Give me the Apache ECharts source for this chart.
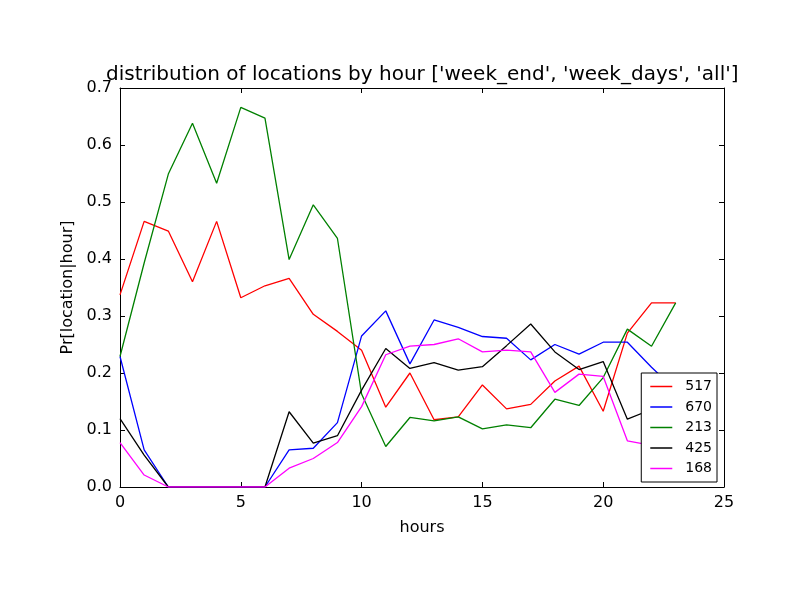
<!DOCTYPE html>
<html>
<head>
<meta charset="utf-8">
<script src="https://cdn.jsdelivr.net/npm/echarts@6/dist/echarts.min.js"></script>
<style>
    html, body { margin: 0; padding: 0; background: #fff; }
    #chart { width: 800px; height: 600px; }
</style>
</head>
<body>
<div id="chart"></div>
<script>

// Data
// ------------------------------

var hours = [0, 1, 2, 3, 4, 5, 6, 7, 8, 9, 10, 11, 12, 13, 14, 15, 16, 17, 18, 19, 20, 21, 22, 23];

var loc517 = [0.337, 0.466, 0.449, 0.360, 0.466, 0.332, 0.353, 0.366, 0.303, 0.273, 0.240, 0.140, 0.200, 0.118, 0.123, 0.179, 0.137, 0.145, 0.186, 0.212, 0.133, 0.270, 0.323, 0.323];
var loc670 = [0.229, 0.065, 0, 0, 0, 0, 0, 0.065, 0.068, 0.113, 0.265, 0.309, 0.216, 0.293, 0.280, 0.264, 0.261, 0.223, 0.250, 0.233, 0.254, 0.254, 0.210, 0.170];
var loc213 = [0.229, 0.393, 0.549, 0.638, 0.533, 0.666, 0.647, 0.399, 0.495, 0.436, 0.163, 0.071, 0.122, 0.116, 0.123, 0.102, 0.109, 0.104, 0.154, 0.143, 0.192, 0.277, 0.247, 0.323];
var loc425 = [0.120, 0.056, 0, 0, 0, 0, 0, 0.132, 0.077, 0.090, 0.170, 0.243, 0.208, 0.218, 0.205, 0.211, 0.248, 0.286, 0.237, 0.206, 0.220, 0.119, 0.136, 0.150];
var loc168 = [0.078, 0.021, 0, 0, 0, 0, 0, 0.033, 0.050, 0.078, 0.141, 0.232, 0.247, 0.250, 0.260, 0.237, 0.240, 0.237, 0.166, 0.198, 0.194, 0.081, 0.073, 0.070];

var seriesNames = ['517', '670', '213', '425', '168'];
var seriesValues = [loc517, loc670, loc213, loc425, loc168];
var seriesColors = ['#ff0000', '#0000ff', '#008000', '#000000', '#ff00ff'];


// Chart
// ------------------------------

var chart = echarts.init(document.getElementById('chart'));

var fontFamily = 'DejaVu Sans, sans-serif';

// Shared axis look (matplotlib style box with inward ticks)
var boxAxis = function(extra) {
    var base = {
        type: 'value',
        axisLine: { show: true, onZero: false, lineStyle: { color: '#000', width: 1 } },
        axisTick: { show: true, inside: true, length: 5, lineStyle: { color: '#000' } },
        splitLine: { show: false },
        axisLabel: { color: '#000', fontSize: 16, fontFamily: fontFamily }
    };
    return Object.assign(base, extra);
};

chart.setOption({
    animation: false,
    backgroundColor: '#fff',
    textStyle: { fontFamily: fontFamily },

    title: {
        text: "distribution of locations by hour ['week_end', 'week_days', 'all']",
        left: 106,
        top: 65,
        padding: 0,
        textStyle: { fontSize: 20, fontWeight: 'normal', color: '#000', fontFamily: fontFamily }
    },

    grid: {
        left: 120,
        right: 76,
        top: 88,
        bottom: 113
    },

    legend: {
        orient: 'vertical',
        right: 83,
        top: 373,
        data: seriesNames,
        icon: 'rect',
        itemWidth: 22,
        itemHeight: 1.5,
        itemGap: 5.5,
        padding: [6, 5, 6, 9],
        backgroundColor: '#fff',
        borderColor: '#000',
        borderWidth: 1,
        borderRadius: 0,
        textStyle: { fontSize: 14, color: '#000', padding: [0, 0, 0, 8], lineHeight: 15 }
    },

    xAxis: [
        boxAxis({
            position: 'bottom',
            min: 0,
            max: 25,
            interval: 5,
            name: 'hours',
            nameLocation: 'middle',
            nameGap: 33,
            nameTextStyle: { fontSize: 16, color: '#000' },
            axisLabel: { color: '#000', fontSize: 16, fontFamily: fontFamily, margin: 8 }
        }),
        boxAxis({
            position: 'top',
            min: 0,
            max: 25,
            interval: 5,
            axisLabel: { show: false }
        })
    ],

    yAxis: [
        boxAxis({
            position: 'left',
            min: 0,
            max: 0.7,
            interval: 0.1,
            name: 'Pr[location|hour]',
            nameLocation: 'middle',
            nameGap: 31,
            nameTextStyle: { fontSize: 16, color: '#000' },
            axisLabel: {
                color: '#000', fontSize: 16, fontFamily: fontFamily, margin: 8,
                formatter: function(v) { return v.toFixed(1); }
            }
        }),
        boxAxis({
            position: 'right',
            min: 0,
            max: 0.7,
            interval: 0.1,
            axisLabel: { show: false }
        })
    ],

    series: seriesNames.map(function(name, i) {
        return {
            name: name,
            type: 'line',
            xAxisIndex: 0,
            yAxisIndex: 0,
            showSymbol: false,
            symbol: 'none',
            color: seriesColors[i],
            lineStyle: { width: 1.3, color: seriesColors[i] },
            data: hours.map(function(h, j) { return [h, seriesValues[i][j]]; })
        };
    })
});

</script>
</body>
</html>
